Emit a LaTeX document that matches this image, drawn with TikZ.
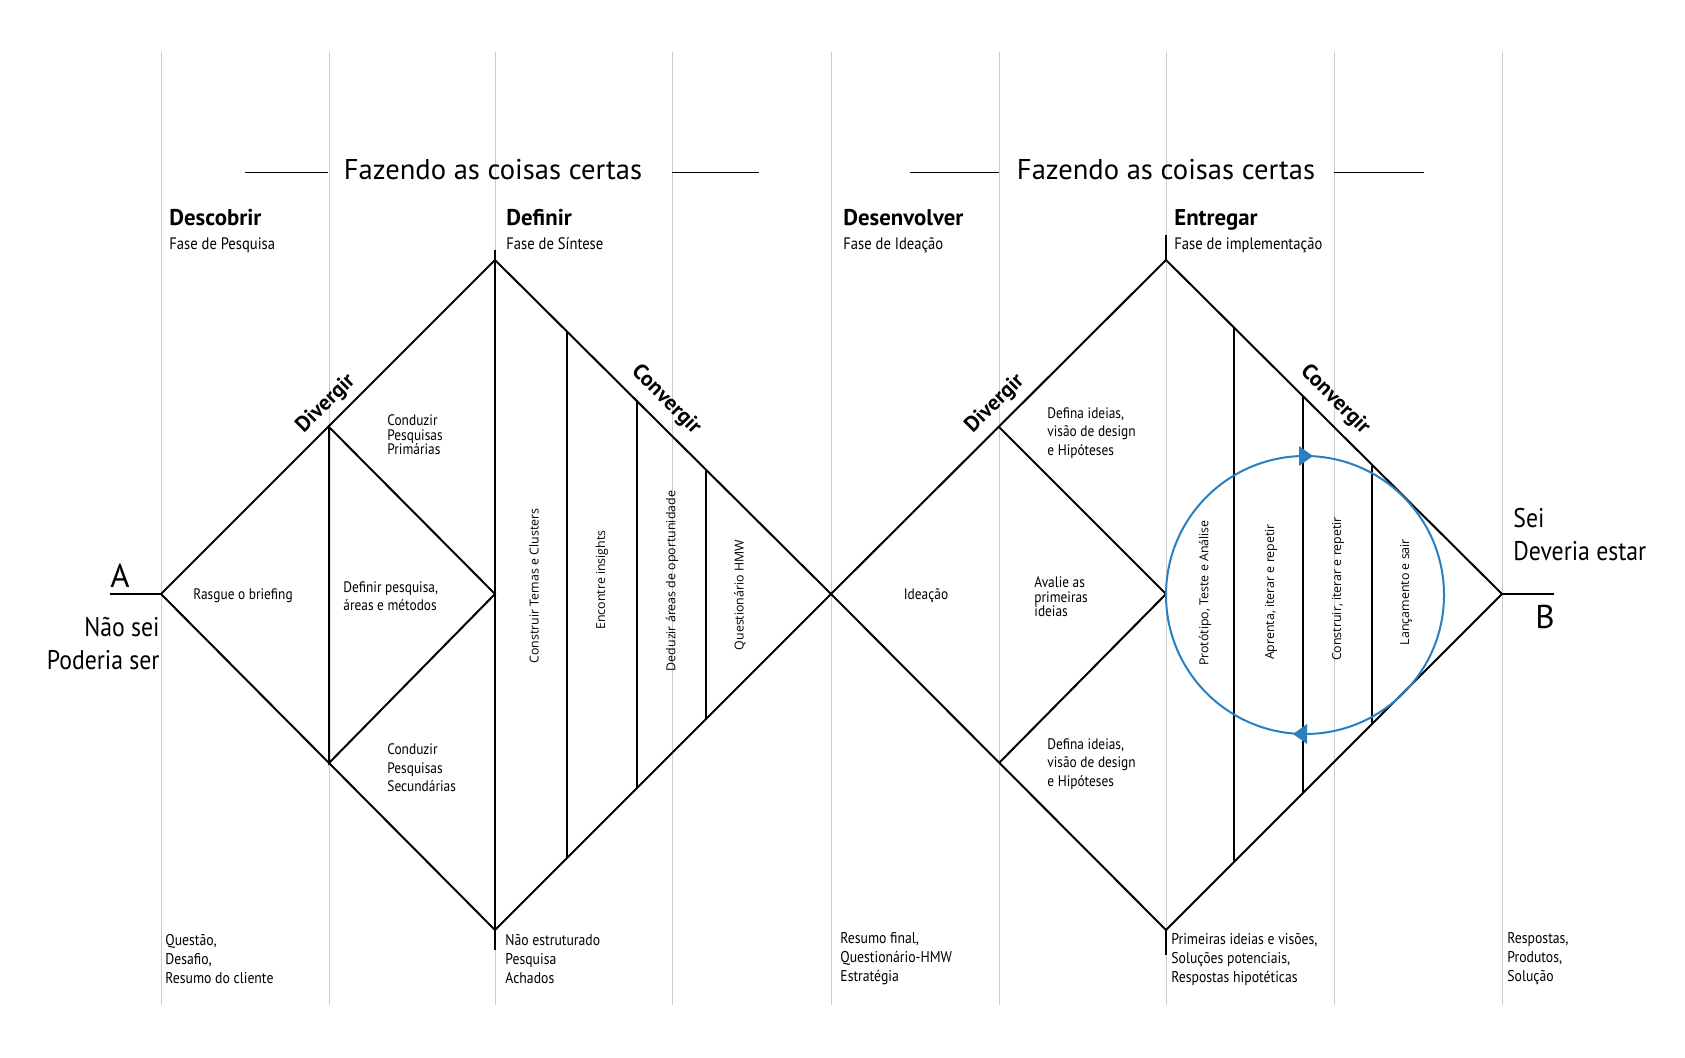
\documentclass[tikz,border=0pt]{standalone}
\usepackage{fontspec}
\setmainfont{PT Sans}
\newfontfamily\notefont[FakeStretch=0.88]{PT Sans}
\newfontfamily\rotfont{Open Sans}
\definecolor{gridgray}{RGB}{204,204,204}
\definecolor{loopblue}{RGB}{41,128,192}
\tikzset{
  gridline/.style={gridgray,line width=0.5pt},
  shapeline/.style={black,line width=1pt},
  titlerule/.style={black,line width=0.5pt},
  headtitle/.style={anchor=base,inner sep=0pt,font=\fontsize{14.3}{16}\selectfont},
  phase/.style={anchor=base west,inner sep=0pt,font=\bfseries\fontsize{11.4}{13}\selectfont},
  subphase/.style={anchor=base west,inner sep=0pt,font=\notefont\fontsize{8.3}{10}\selectfont},
  turnlabel/.style={inner sep=0pt,font=\bfseries\fontsize{10.8}{12}\selectfont},
  note/.style={anchor=west,inner sep=0pt,align=left,font=\notefont\fontsize{7.6}{9.25}\selectfont},
  tightnote/.style={anchor=west,inner sep=0pt,align=left,font=\notefont\fontsize{7.6}{7.25}\selectfont},
  midnote/.style={inner sep=0pt,font=\notefont\fontsize{7.6}{9}\selectfont},
  vtext/.style={rotate=90,inner sep=0pt,font=\rotfont\fontsize{6.2}{7}\selectfont},
  endnote/.style={anchor=west,inner sep=0pt,align=left,font=\notefont\fontsize{7.8}{9.5}\selectfont},
  stateline/.style={inner sep=0pt,font=\notefont\fontsize{13.5}{16.25}\selectfont},
  letter/.style={anchor=base west,inner sep=0pt,font=\fontsize{16.5}{18}\selectfont}
}
\begin{document}
\begin{tikzpicture}[x=0.5pt,y=-0.5pt]
\useasboundingbox (0,0) rectangle (1685,1058);
% columns
\foreach \x in {161,329,495,672,831,999,1166,1334,1502}
  \draw[gridline] (\x,52) -- (\x,1005);

% titles
\node[headtitle] (title1) at (493,180) {Fazendo as coisas certas};
\node[headtitle] (title2) at (1166,180) {Fazendo as coisas certas};
\draw[titlerule] (245,173) -- (328,173);
\draw[titlerule] (672,173) -- (759,173);
\draw[titlerule] (910,173) -- (999,173);
\draw[titlerule] (1334,173) -- (1424,173);

% phases
\node[phase] (descobrir) at (169,226) {Descobrir};
\node[subphase] (descobrirsub) at (169,250) {Fase de Pesquisa};
\node[phase] (definir) at (506,226) {Definir};
\node[subphase] (definirsub) at (506,250) {Fase de Síntese};
\node[phase] (desenvolver) at (843,226) {Desenvolver};
\node[subphase] (desenvolversub) at (843,250) {Fase de Ideação};
\node[phase] (entregar) at (1174,226) {Entregar};
\node[subphase] (entregarsub) at (1174,250) {Fase de implementação};

% first diamond
\coordinate (A) at (161,594);
\coordinate (mid) at (831,594);
\coordinate (B) at (1502,594);
\draw[shapeline] (A) -- (495,260) -- (mid) -- (495,930) -- cycle;
\draw[shapeline] (329,427) -- (495,594) -- (329,763) -- cycle;
\draw[shapeline] (495,250) -- (495,950);
\draw[shapeline] (567,332) -- (567,858);
\draw[shapeline] (637,402) -- (637,788);
\draw[shapeline] (706,471) -- (706,719);

% second diamond
\draw[shapeline] (mid) -- (1166,260) -- (B) -- (1166,930) -- cycle;
\draw[shapeline] (999,427) -- (1166,594) -- (999,763);
\draw[shapeline] (1166,235) -- (1166,260);
\draw[shapeline] (1166,930) -- (1166,955);
\draw[shapeline] (1234,328) -- (1234,862);
\draw[shapeline] (1303,397) -- (1303,793);
\draw[shapeline] (1372,466) -- (1372,724);

% start and end
\draw[shapeline] (110,594) -- (A);
\draw[shapeline] (B) -- (1554,594);
\node[letter] (letterA) at (110,587) {A};
\node[letter] (letterB) at (1535,628) {B};
\node[stateline,anchor=base east,align=right] (naosei) at (160,669) {Não sei\\Poderia ser};
\node[stateline,anchor=base west,align=left] (sei) at (1513,560) {Sei\\Deveria estar};

% divergir / convergir
\node[turnlabel,rotate=45] (div1) at (326,404) {Divergir};
\node[turnlabel,rotate=-45] (conv1) at (666,400) {Convergir};
\node[turnlabel,rotate=45] (div2) at (995,404) {Divergir};
\node[turnlabel,rotate=-45] (conv2) at (1335,400) {Convergir};

% notes, first diamond
\node[midnote] (briefing) at (243,596) {Rasgue o briefing};
\node[tightnote] (primarias) at (387,435) {Conduzir\\Pesquisas\\Primárias};
\node[note,font=\notefont\fontsize{7.6}{9}\selectfont] (metodos) at (343,596) {Definir pesquisa,\\áreas e métodos};
\node[note] (secundarias) at (387,768) {Conduzir\\Pesquisas\\Secundárias};
\node[vtext] (temas) at (534,586) {Construir Temas e Clusters};
\node[vtext] (insights) at (602,580) {Encontre insights};
\node[vtext] (areas) at (672,581) {Deduzir áreas de oportunidade};
\node[vtext] (hmw) at (740,595) {Questionário HMW};

% notes, second diamond
\node[midnote] (ideacao) at (926,596) {Ideação};
\node[note] (ideiastop) at (1047,433) {Defina ideias,\\visão de design\\e Hipóteses};
\node[tightnote] (avalie) at (1034,597) {Avalie as\\primeiras\\ideias};
\node[note] (ideiasbot) at (1047,764) {Defina ideias,\\visão de design\\e Hipóteses};
\node[vtext] (prototipo) at (1205,593) {Protótipo, Teste e Análise};
\node[vtext] (aprenda) at (1271,592) {Aprenta, iterar e repetir};
\node[vtext] (construir) at (1338,589) {Construir, iterar e repetir};
\node[vtext] (lancamento) at (1406,592) {Lançamento e sair};

% loop
\draw[loopblue,line width=1pt] (1305,595) circle[radius=69.5pt];
\fill[loopblue] (1313,456) -- (1299,446) -- (1299,466) -- cycle;
\fill[loopblue] (1293,734) -- (1307,724) -- (1307,744) -- cycle;

% bottom notes
\node[endnote] (questao) at (165,959) {Questão,\\Desafio,\\Resumo do cliente};
\node[endnote] (achados) at (505,959) {Não estruturado\\Pesquisa\\Achados};
\node[endnote] (resumo) at (840,959) {Resumo final,\\Questionário-HMW\\Estratégia};
\node[endnote] (visoes) at (1171,959) {Primeiras ideias e visões,\\Soluções potenciais,\\Respostas hipotéticas};
\node[endnote] (respostas) at (1507,959) {Respostas,\\Produtos,\\Solução};
\end{tikzpicture}
\end{document}
